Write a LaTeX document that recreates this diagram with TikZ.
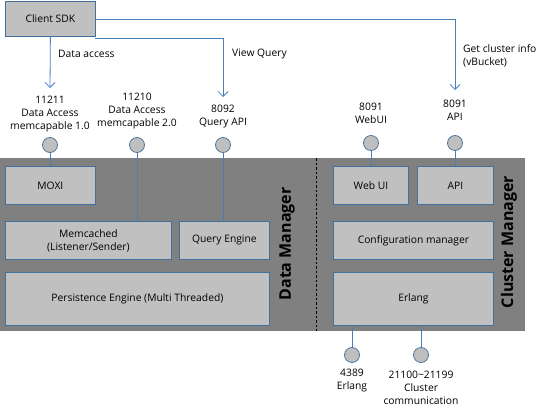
\documentclass[tikz,border=0pt]{standalone}
\usepackage{fontspec}
\setmainfont{Open Sans}
\usetikzlibrary{arrows.meta}
\definecolor{band}{HTML}{808080}
\definecolor{boxfill}{HTML}{C0C0C0}
\definecolor{boxedge}{HTML}{41719C}
\definecolor{linkc}{HTML}{4A7EBB}
\definecolor{portfill}{HTML}{BFBFBF}
\definecolor{portedge}{HTML}{52779F}
\tikzset{
  comp/.style={draw=boxedge, fill=boxfill, line width=0.8pt, anchor=north west, inner sep=0pt, align=center, font=\fontsize{10.3}{13}\selectfont},
  port/.style={circle, draw=portedge, fill=portfill, line width=0.8pt, minimum size=15pt, inner sep=0pt},
  lbl/.style={align=center, inner sep=0pt, font=\fontsize{10.3}{13}\selectfont},
  link/.style={draw=linkc, line width=0.8pt},
  arr/.style={link, -{Straight Barb[length=5pt,width=10pt]}},
  side/.style={rotate=90, font=\fontsize{16}{18}\selectfont\bfseries, inner sep=0pt}
}
\begin{document}
\begin{tikzpicture}[x=1pt, y=-1pt]
\useasboundingbox (0,0) rectangle (549,415);
% band
\fill[band] (0,158) rectangle (525,331);
\draw[black, line width=0.6pt, dash pattern=on 2.5pt off 2pt] (316,158) -- (316,331);
% client
\node[comp, minimum width=90pt, minimum height=35pt] (sdk) at (5,1) {Client SDK};
% data manager boxes
\node[comp, minimum width=90pt, minimum height=38pt] (moxi) at (5,166) {MOXI};
\node[comp, minimum width=166pt, minimum height=38pt] (memc) at (5,221) {Memcached\\(Listener/Sender)};
\node[comp, minimum width=90pt, minimum height=38pt] (qe) at (179,221) {Query Engine};
\node[comp, minimum width=264pt, minimum height=53pt] (pers) at (5,272) {Persistence Engine (Multi Threaded)};
% cluster manager boxes
\node[comp, minimum width=75pt, minimum height=38pt] (webui) at (333,166) {Web UI};
\node[comp, minimum width=76pt, minimum height=38pt] (api) at (417,166) {API};
\node[comp, minimum width=160pt, minimum height=38pt] (conf) at (333,221) {Configuration manager};
\node[comp, minimum width=160pt, minimum height=53pt] (erl) at (333,272) {Erlang};
% side labels
\node[side] (dm) at (287,244) {Data Manager};
\node[side] (cm) at (509,242) {Cluster Manager};
% ports
\node[port] (p1) at (50,145) {};
\node[port] (p2) at (137,145) {};
\node[port] (p3) at (223,145) {};
\node[port] (p4) at (371,143) {};
\node[port] (p5) at (455,143) {};
\node[port] (p6) at (352,355) {};
\node[port] (p7) at (421,355) {};
% port labels
\node[lbl] (l1) at (50,114) {11211\\Data Access\\memcapable 1.0};
\node[lbl] (l2) at (137,111) {11210\\Data Access\\memcapable 2.0};
\node[lbl] (l3) at (223,117) {8092\\Query API};
\node[lbl] (l4) at (371,113) {8091\\WebUI};
\node[lbl] (l5) at (455,110) {8091\\API};
\node[lbl] (l6) at (352,381) {4389\\Erlang};
\node[lbl] (l7) at (421,388) {21100\textasciitilde21199\\Cluster\\communication};
% port links
\draw[link] (p1.south) -- (p1.south |- moxi.north);
\draw[link] (p2.south) -- (p2.south |- memc.north);
\draw[link] (p3.south) -- (p3.south |- qe.north);
\draw[link] (p4.south) -- (p4.south |- webui.north);
\draw[link] (p5.south) -- (p5.south |- api.north);
\draw[link] (p6.north |- erl.south) -- (p6.north);
\draw[link] (p7.north |- erl.south) -- (p7.north);
% client arrows
\coordinate (a1) at (50,88);
\coordinate (a2) at (223,97);
\coordinate (a3) at (455,90);
\coordinate (vq) at (95,38);
\draw[arr] (sdk.south) -- (a1);
\draw[arr] (vq) -| (a2);
\draw[arr] (sdk.east) -| (a3);
\node[lbl, anchor=west] (t1) at (58,54) {Data access};
\node[lbl, anchor=west] (t2) at (232,54) {View Query};
\node[lbl, anchor=west, align=left] (t3) at (463,55.5) {Get cluster info\\(vBucket)};
\end{tikzpicture}
\end{document}
